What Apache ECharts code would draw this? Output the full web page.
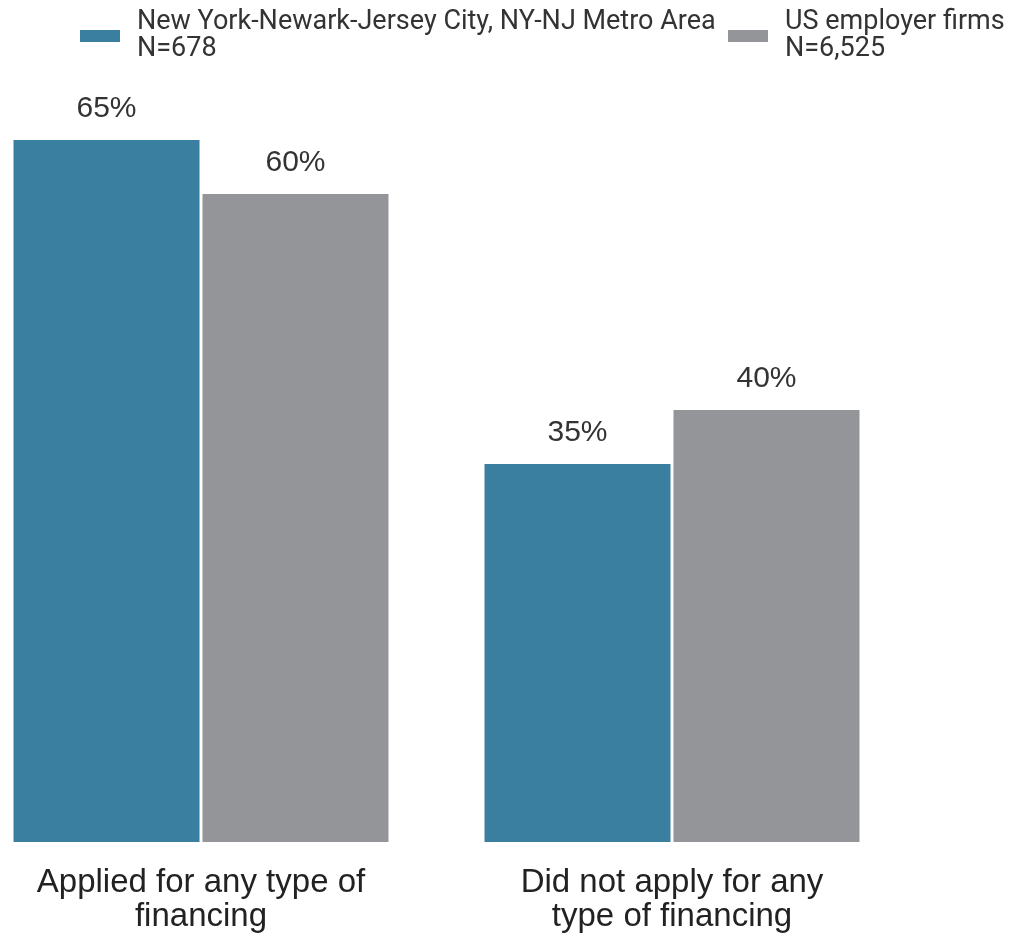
<!DOCTYPE html>
<html>
<head>
<meta charset="utf-8">
<script src="https://cdn.jsdelivr.net/npm/echarts@6/dist/echarts.min.js"></script>
<style>
  html, body { margin: 0; padding: 0; background: #fff; }
  #chart { width: 1009px; height: 937px; }
</style>
</head>
<body>
<div id="chart"></div>
<script>
   var categories = ['Applied for any type of\nfinancing', 'Did not apply for any\ntype of financing'];
   var nyName = 'New York-Newark-Jersey City, NY-NJ Metro Area\nN=678';
   var usName = 'US employer firms\nN=6,525';
   var nyValues = [65, 35];
   var usValues = [60, 40];

   var chart = echarts.init(document.getElementById('chart'));

   var legendBase = {
       top: 5,
       padding: 0,
       icon: 'rect',
       itemWidth: 40,
       itemHeight: 12,
       textStyle: {
           fontFamily: 'Roboto',
           fontSize: 27,
           color: '#333',
           lineHeight: 27,
           padding: [0, 0, 8, 12]
       }
   };

   var valueLabel = {
       show: true,
       position: 'top',
       distance: 16,
       formatter: '{c}%',
       fontFamily: 'Liberation Sans',
       fontSize: 30,
       color: '#333'
   };

   var option = {
       animation: false,
       color: ['#3a7ea0', '#939598'],
       legend: [
           Object.assign({}, legendBase, { left: 80, data: [nyName] }),
           Object.assign({}, legendBase, { left: 728, data: [usName] })
       ],
       // boundaryGap false: category centres sit on the grid edges
       grid: {
           left: 201,
           right: 337,
           top: 140,
           bottom: 95
       },
       xAxis: {
           type: 'category',
           data: categories,
           boundaryGap: false,
           axisLine: { show: false },
           axisTick: { show: false },
           axisLabel: {
               margin: 24,
               fontFamily: 'Liberation Sans',
               fontSize: 33,
               lineHeight: 34,
               color: '#222'
           }
       },
       yAxis: {
           type: 'value',
           min: 0,
           max: 65,
           show: false,
           splitLine: { show: false }
       },
       series: [
           {
               name: nyName,
               type: 'bar',
               data: nyValues,
               barWidth: 186,
               barGap: '1.6%',
               label: valueLabel
           },
           {
               name: usName,
               type: 'bar',
               data: usValues,
               barWidth: 186,
               label: valueLabel
           }
       ]
   };
   chart.setOption(option);
</script>
</body>
</html>
